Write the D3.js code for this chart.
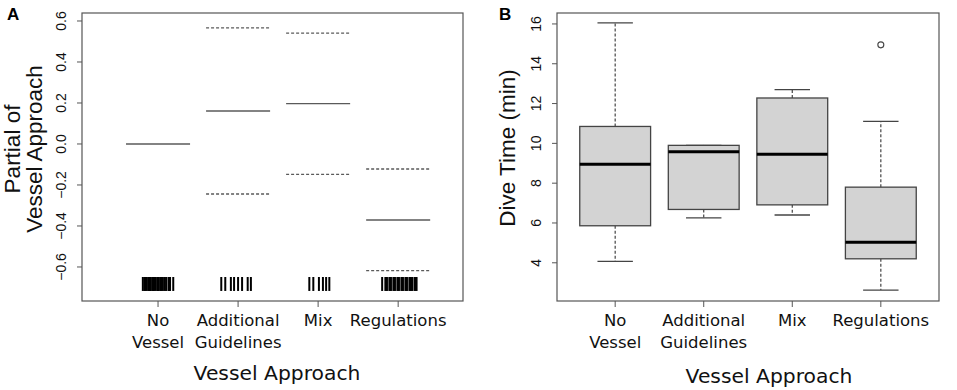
<!DOCTYPE html>
<html>
<head>
<meta charset="utf-8">
<script src="https://cdn.jsdelivr.net/npm/d3@7"></script>
<style>
  body { margin: 0; background: #fff; }
  svg { display: block; }
</style>
</head>
<body>
<div id="wrapper"></div>
<script>
// categories
const approaches = ["No\nVessel", "Additional\nGuidelines", "Mix", "Regulations"]

// panel A: partial effect of vessel approach (estimate, upper and lower 2 SE)
const partialFit = [0, 0.161, 0.197, -0.371]
const partialUpper = [null, 0.566, 0.541, -0.122]
const partialLower = [null, -0.244, -0.148, -0.618]
const partialTicks = [-0.6, -0.4, -0.2, 0.0, 0.2, 0.4, 0.6]

// panel A: rug of (jittered) observations
const rugNoVessel = [0.81, 0.83, 0.84, 0.86, 0.88, 0.89, 0.90, 0.91, 0.93, 0.94, 0.95, 0.97,
  0.99, 1.00, 1.01, 1.03, 1.04, 1.06, 1.08, 1.10, 1.13, 1.14, 1.15, 1.19]
const rugAdditional = [1.79, 1.84, 1.91, 1.95, 2.00, 2.05, 2.12, 2.16]
const rugMix = [2.89, 2.94, 3.01, 3.06, 3.10, 3.14]
const rugRegulations = [3.80, 3.84, 3.86, 3.89, 3.91, 3.94, 3.96, 3.99, 4.01, 4.04, 4.06,
  4.09, 4.11, 4.14, 4.16, 4.18, 4.21, 4.23]

// panel B: dive time boxplots (min)
const diveLowerWhisker = [4.07, 6.26, 6.40, 2.63]
const diveQ1 = [5.86, 6.68, 6.91, 4.20]
const diveMedian = [8.95, 9.58, 9.45, 5.03]
const diveQ3 = [10.85, 9.90, 12.28, 7.80]
const diveUpperWhisker = [16.05, 9.90, 12.70, 11.10]
const diveOutliers = [[], [], [], [14.95]]
const diveTicks = [4, 6, 8, 10, 12, 14, 16]

function drawChart() {

  const dimensions = {
    width: 957,
    height: 390,
  }

  const wrapper = d3.select("#wrapper")
    .append("svg")
    .attr("width", dimensions.width)
    .attr("height", dimensions.height)

  const frameColor = "#555"
  const tickFont = "'Liberation Sans', Arial, sans-serif"
  const labelFont = "'DejaVu Sans', Verdana, sans-serif"

  // shared: multi-line category labels under the x axis
  function drawCategoryLabels(g, xScale) {
    approaches.forEach((label, i) => {
      const lines = label.split("\n")
      const text = g.append("text")
        .attr("x", xScale(i + 1))
        .attr("y", 326)
        .attr("text-anchor", "middle")
        .attr("font-family", labelFont)
        .attr("font-size", 16.5)
        .attr("fill", "#111")
      lines.forEach((line, j) => {
        text.append("tspan")
          .attr("x", xScale(i + 1))
          .attr("dy", j === 0 ? 0 : 22)
          .text(line)
      })
    })
  }

  function drawYAxis(g, yScale, ticks, left, fmt) {
    g.selectAll(".ytick")
      .data(ticks)
      .join("line")
      .attr("x1", left - 5)
      .attr("x2", left)
      .attr("y1", d => yScale(d))
      .attr("y2", d => yScale(d))
      .attr("stroke", frameColor)
    g.selectAll(".ylabel")
      .data(ticks)
      .join("text")
      .attr("transform", d => `translate(${left - 16},${yScale(d)}) rotate(-90)`)
      .attr("text-anchor", "middle")
      .attr("font-family", tickFont)
      .attr("font-size", 14)
      .attr("fill", "#111")
      .text(fmt)
  }

  function drawXTicks(g, xScale, bottom) {
    g.selectAll(".xtick")
      .data(approaches)
      .join("line")
      .attr("x1", (d, i) => xScale(i + 1))
      .attr("x2", (d, i) => xScale(i + 1))
      .attr("y1", bottom)
      .attr("y2", bottom + 6)
      .attr("stroke", frameColor)
  }

  // ---------- Panel A ----------
  const a = { left: 82, right: 463, top: 13, bottom: 301 }
  const panelA = wrapper.append("g")

  const xA = d3.scaleLinear()
    .domain([0.05, 4.81])
    .range([a.left, a.right])
  const yA = d3.scaleLinear()
    .domain([-0.766, 0.639])
    .range([a.bottom, a.top])

  const halfSeg = 0.4
  partialFit.forEach((v, i) => {
    panelA.append("line")
      .attr("x1", xA(i + 1 - halfSeg))
      .attr("x2", xA(i + 1 + halfSeg))
      .attr("y1", yA(v))
      .attr("y2", yA(v))
      .attr("stroke", "#5a5a5a")
      .attr("stroke-width", 1.4)
  })
  const bands = [partialUpper, partialLower]
  bands.forEach(arr => {
    arr.forEach((v, i) => {
      if (v === null) return
      panelA.append("line")
        .attr("x1", xA(i + 1 - halfSeg))
        .attr("x2", xA(i + 1 + halfSeg))
        .attr("y1", yA(v))
        .attr("y2", yA(v))
        .attr("stroke", "#5a5a5a")
        .attr("stroke-width", 1.3)
        .attr("stroke-dasharray", "3,2")
    })
  })

  const rugs = [rugNoVessel, rugAdditional, rugMix, rugRegulations]
  const rugTop = -0.649
  const rugBottom = -0.717
  rugs.forEach(r => {
    panelA.append("g")
      .selectAll("line")
      .data(r)
      .join("line")
      .attr("x1", d => xA(d))
      .attr("x2", d => xA(d))
      .attr("y1", yA(rugTop))
      .attr("y2", yA(rugBottom))
      .attr("stroke", "#000")
      .attr("stroke-width", 2)
  })

  panelA.append("rect")
    .attr("x", a.left)
    .attr("y", a.top)
    .attr("width", a.right - a.left)
    .attr("height", a.bottom - a.top)
    .attr("fill", "none")
    .attr("stroke", frameColor)
    .attr("stroke-width", 1.2)

  drawYAxis(panelA, yA, partialTicks, a.left, d => d3.format(".1f")(d))
  drawXTicks(panelA, xA, a.bottom)
  drawCategoryLabels(panelA, xA)

  panelA.append("text")
    .attr("x", 277)
    .attr("y", 380)
    .attr("text-anchor", "middle")
    .attr("font-family", labelFont)
    .attr("font-size", 20.3)
    .attr("fill", "#111")
    .text("Vessel Approach")

  const titleA = panelA.append("text")
    .attr("transform", "translate(0,149) rotate(-90)")
    .attr("text-anchor", "middle")
    .attr("font-family", tickFont)
    .attr("font-size", 22.5)
    .attr("fill", "#111")
  titleA.append("tspan").attr("x", 0).attr("y", 20).text("Partial of")
  titleA.append("tspan").attr("x", 0).attr("y", 42).text("Vessel Approach")

  panelA.append("text")
    .attr("x", 7)
    .attr("y", 20)
    .attr("font-family", tickFont)
    .attr("font-weight", "bold")
    .attr("font-size", 17)
    .text("A")

  // ---------- Panel B ----------
  const b = { left: 557, right: 939, top: 13, bottom: 301 }
  const panelB = wrapper.append("g")

  const xB = d3.scaleLinear()
    .domain([0.343, 4.657])
    .range([b.left, b.right])
  const yB = d3.scaleLinear()
    .domain([2.08, 16.55])
    .range([b.bottom, b.top])

  const halfBox = 0.4
  const halfCap = 0.2
  const boxColor = "#444"

  approaches.forEach((c, i) => {
    const cx = i + 1
    const g = panelB.append("g")
    // whiskers
    g.append("line")
      .attr("x1", xB(cx)).attr("x2", xB(cx))
      .attr("y1", yB(diveQ3[i])).attr("y2", yB(diveUpperWhisker[i]))
      .attr("stroke", boxColor).attr("stroke-width", 1.2)
      .attr("stroke-dasharray", "3,2")
    g.append("line")
      .attr("x1", xB(cx)).attr("x2", xB(cx))
      .attr("y1", yB(diveQ1[i])).attr("y2", yB(diveLowerWhisker[i]))
      .attr("stroke", boxColor).attr("stroke-width", 1.2)
      .attr("stroke-dasharray", "3,2")
    ;[diveUpperWhisker[i], diveLowerWhisker[i]].forEach(v => {
      g.append("line")
        .attr("x1", xB(cx - halfCap)).attr("x2", xB(cx + halfCap))
        .attr("y1", yB(v)).attr("y2", yB(v))
        .attr("stroke", boxColor).attr("stroke-width", 1.3)
    })
    // box
    g.append("rect")
      .attr("x", xB(cx - halfBox))
      .attr("y", yB(diveQ3[i]))
      .attr("width", xB(cx + halfBox) - xB(cx - halfBox))
      .attr("height", yB(diveQ1[i]) - yB(diveQ3[i]))
      .attr("fill", "#d3d3d3")
      .attr("stroke", boxColor)
      .attr("stroke-width", 1.3)
    // median
    g.append("line")
      .attr("x1", xB(cx - halfBox)).attr("x2", xB(cx + halfBox))
      .attr("y1", yB(diveMedian[i])).attr("y2", yB(diveMedian[i]))
      .attr("stroke", "#000").attr("stroke-width", 3)
    // outliers
    g.selectAll("circle")
      .data(diveOutliers[i])
      .join("circle")
      .attr("cx", xB(cx))
      .attr("cy", d => yB(d))
      .attr("r", 3)
      .attr("fill", "none")
      .attr("stroke", boxColor)
      .attr("stroke-width", 1.1)
  })

  panelB.append("rect")
    .attr("x", b.left)
    .attr("y", b.top)
    .attr("width", b.right - b.left)
    .attr("height", b.bottom - b.top)
    .attr("fill", "none")
    .attr("stroke", frameColor)
    .attr("stroke-width", 1.2)

  drawYAxis(panelB, yB, diveTicks, b.left, d => d)
  drawXTicks(panelB, xB, b.bottom)
  drawCategoryLabels(panelB, xB)

  panelB.append("text")
    .attr("x", 769)
    .attr("y", 383)
    .attr("text-anchor", "middle")
    .attr("font-family", labelFont)
    .attr("font-size", 20.3)
    .attr("fill", "#111")
    .text("Vessel Approach")

  panelB.append("text")
    .attr("transform", "translate(515,148) rotate(-90)")
    .attr("text-anchor", "middle")
    .attr("font-family", tickFont)
    .attr("font-size", 22.5)
    .attr("fill", "#111")
    .text("Dive Time (min)")

  panelB.append("text")
    .attr("x", 499)
    .attr("y", 20)
    .attr("font-family", tickFont)
    .attr("font-weight", "bold")
    .attr("font-size", 17)
    .text("B")
}

drawChart()
</script>
</body>
</html>
